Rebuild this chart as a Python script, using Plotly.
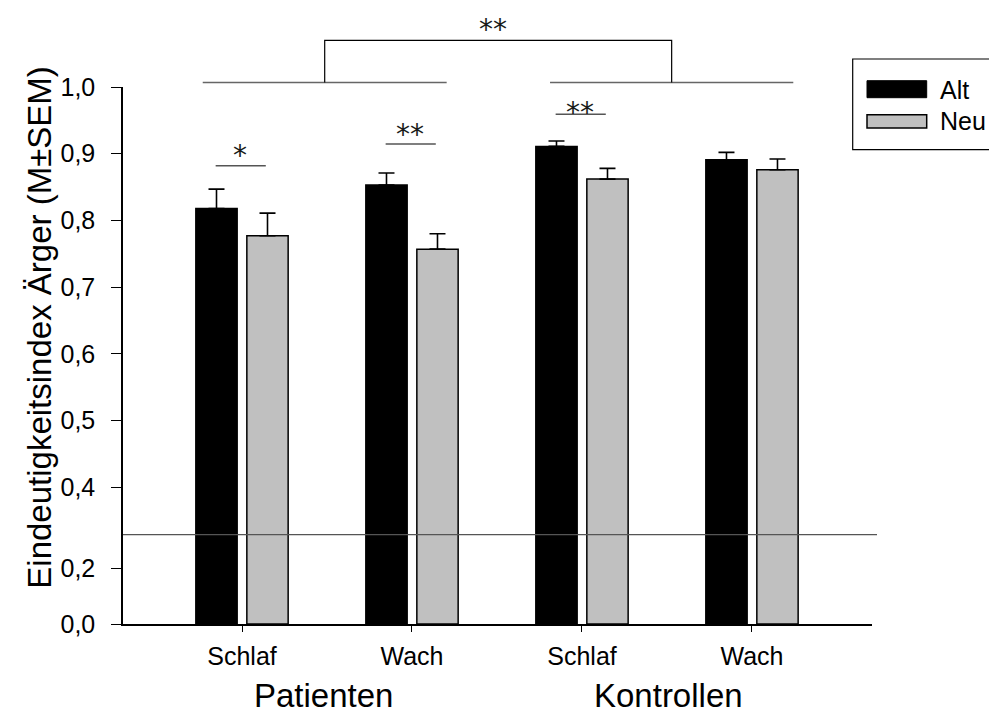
import plotly.graph_objects as go

# ---------------- data ----------------
conditions = ["Schlaf", "Wach", "Schlaf", "Wach"]
groups = ["Patienten", "Kontrollen"]
alt_mean = [0.818, 0.853, 0.911, 0.891]
alt_sem = [0.029, 0.018, 0.008, 0.011]
neu_mean = [0.777, 0.757, 0.862, 0.876]
neu_sem = [0.034, 0.023, 0.016, 0.016]
series_names = ["Alt", "Neu"]
lower_ticks = [0.0, 0.2]
upper_ticks = [0.4, 0.5, 0.6, 0.7, 0.8, 0.9, 1.0]
y_title = "Eindeutigkeitsindex Ärger (M±SEM)"

# ---------------- geometry helpers ----------------
W, H = 989, 713
L, R, T, B = 123, 872, 87.3, 624.3
BREAK_PX = 535
pw, ph = R - L, B - T


def px(xp):
    return (xp - L) / pw


def py(yp):
    return (B - yp) / ph


split = py(BREAK_PX)
FONT = "Liberation Sans, Arial, sans-serif"
STAR_FONT = dict(family="DejaVu Sans", size=28, color="#1a1a1a")
xpos = list(range(len(conditions)))

fig = go.Figure()
colors = ["#000000", "#c0c0c0"]
means = [alt_mean, neu_mean]
sems = [alt_sem, neu_sem]
for yax in ["y", "y2"]:
    for name, col, m, s in zip(series_names, colors, means, sems):
        err = None
        if yax == "y2":
            err = dict(type="data", array=s, arrayminus=[0] * len(s),
                       symmetric=False, color="black", thickness=1.6, width=8)
        fig.add_trace(go.Bar(x=xpos, y=m, name=name, xaxis="x", yaxis=yax,
                             marker=dict(color=col, line=dict(color="black", width=1.5)),
                             error_y=err, showlegend=False, hoverinfo="skip"))

tick_common = dict(showline=True, linecolor="black", linewidth=1.5,
                   ticks="outside", tickwidth=1.2, tickcolor="black",
                   showgrid=False, zeroline=False)
fig.update_layout(
    width=W, height=H,
    margin=dict(l=L, r=W - R, t=T, b=H - B, autoexpand=False),
    paper_bgcolor="white", plot_bgcolor="white",
    barmode="group", bargap=0.4, bargroupgap=0.19,
    font=dict(family=FONT, color="black"),
    xaxis=dict(range=[-0.70, 3.706], tickvals=xpos, ticktext=conditions,
               ticklen=6, tickfont=dict(size=25), ticklabelstandoff=3,
               anchor="y", automargin=False, **tick_common),
    yaxis=dict(domain=[0, split], range=[0, 0.323],
               tickvals=lower_ticks, ticktext=[f"{v:.1f}".replace(".", ",") for v in lower_ticks],
               ticklen=10, tickfont=dict(size=25), ticklabelstandoff=11,
               anchor="x", automargin=False, **tick_common),
    yaxis2=dict(domain=[split, 1], range=[0.329, 1.0],
                tickvals=upper_ticks, ticktext=[f"{v:.1f}".replace(".", ",") for v in upper_ticks],
                ticklen=10, tickfont=dict(size=25), ticklabelstandoff=11,
                anchor="x", automargin=False, **tick_common),
)

shapes = []
# break line
shapes.append(dict(type="line", xref="paper", yref="paper", x0=0, x1=px(877),
                   y0=split, y1=split, line=dict(color="#555555", width=1.2)))
# pairwise significance lines (data coords, upper axis)
sig_pairs = [(0, 0.882, "*"), (1, 0.9145, "**"), (2, 0.959, "**")]
star_centers = [150, 129, 106.7]
for k, yv, lab in sig_pairs:
    shapes.append(dict(type="line", xref="x", yref="y2", x0=k - 0.155, x1=k + 0.14,
                       y0=yv, y1=yv, line=dict(color="#555555", width=1.5)))
# group bracket (outside plot, paper coords)
yb = py(82.7)
ytop = py(40.7)
shapes.append(dict(type="line", xref="x", yref="paper", x0=-0.231, x1=1.204, y0=yb, y1=yb,
                   line=dict(color="#666666", width=1.5)))
shapes.append(dict(type="line", xref="x", yref="paper", x0=1.812, x1=3.243, y0=yb, y1=yb,
                   line=dict(color="#666666", width=1.5)))
xl, xr = (-0.231 + 1.204) / 2, (1.812 + 3.243) / 2
shapes.append(dict(type="path", xref="x", yref="paper",
                   path=f"M {xl},{yb} L {xl},{ytop} L {xr},{ytop} L {xr},{yb}",
                   line=dict(color="black", width=1.2)))
# legend box and swatches
shapes.append(dict(type="rect", xref="paper", yref="paper", x0=px(852.7), x1=px(1000),
                   y0=py(150), y1=py(59.3), line=dict(color="black", width=1.2),
                   fillcolor="white", layer="below"))
shapes.append(dict(type="rect", xref="paper", yref="paper", x0=px(867), x1=px(926.7),
                   y0=py(98), y1=py(81), line=dict(color="black", width=1), fillcolor="black"))
shapes.append(dict(type="rect", xref="paper", yref="paper", x0=px(867), x1=px(926.7),
                   y0=py(128.3), y1=py(115), line=dict(color="black", width=1.5), fillcolor="#c0c0c0"))
fig.update_layout(shapes=shapes)

ann = []
for (k, yv, lab), yc in zip(sig_pairs, star_centers):
    ann.append(dict(xref="x", yref="paper", x=k - 0.01, y=py(yc + 6), text=lab, showarrow=False,
                    yanchor="middle", font=STAR_FONT))
ann.append(dict(xref="paper", yref="paper", x=px(493), y=py(24 + 6), text="**", showarrow=False,
                yanchor="middle", font=STAR_FONT))
# legend text
ann.append(dict(xref="paper", yref="paper", x=px(938), y=py(90), text=series_names[0],
                xanchor="left", yanchor="middle", showarrow=False, font=dict(size=25)))
ann.append(dict(xref="paper", yref="paper", x=px(938), y=py(121), text=series_names[1],
                xanchor="left", yanchor="middle", showarrow=False, font=dict(size=25)))
# group labels
ann.append(dict(xref="paper", yref="paper", x=px(323), y=py(696), text=groups[0],
                xanchor="center", yanchor="middle", showarrow=False, font=dict(size=33)))
ann.append(dict(xref="paper", yref="paper", x=px(668), y=py(696), text=groups[1],
                xanchor="center", yanchor="middle", showarrow=False, font=dict(size=33)))
# y title
ann.append(dict(xref="paper", yref="paper", x=px(40), y=py(328), text=y_title, textangle=-90,
                xanchor="center", yanchor="middle", showarrow=False, font=dict(size=33)))
fig.update_layout(annotations=ann)

fig.write_html("out.html", config={"displayModeBar": False},
               post_script="document.body.style.margin='0';document.body.style.overflow='hidden';")
